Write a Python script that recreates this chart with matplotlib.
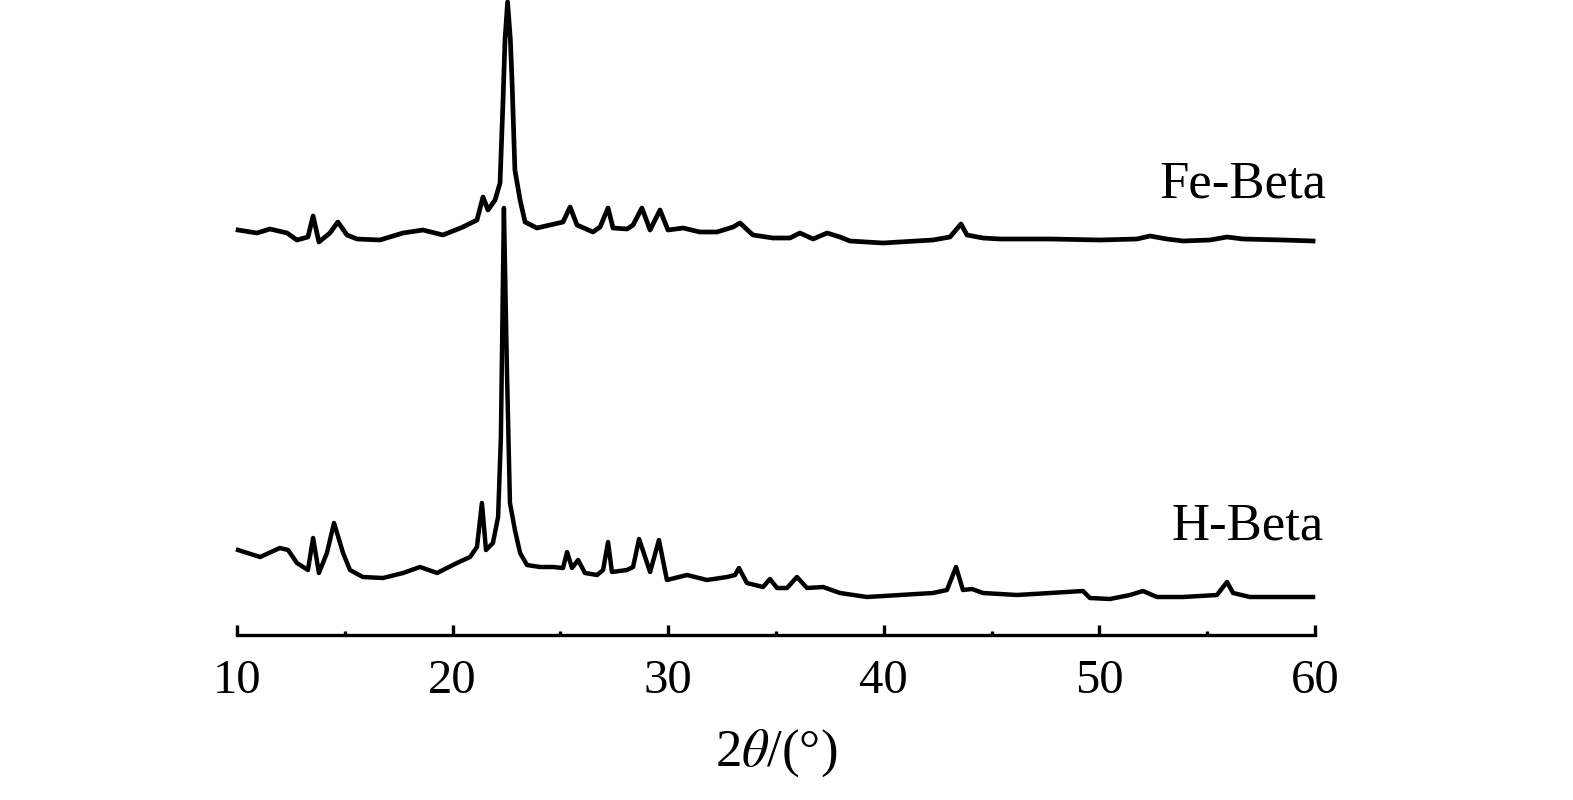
import matplotlib
matplotlib.use('Agg')
from matplotlib import pyplot as plt
from matplotlib.ticker import MultipleLocator

plt.rcParams['font.family'] = ['Liberation Serif', 'DejaVu Serif']
plt.rcParams['mathtext.fontset'] = 'stix'

# H-Beta pattern (2theta, intensity a.u.)
h_2theta = [10.05, 11.07, 11.99, 12.37, 12.78, 13.29, 13.53, 13.80, 14.17, 14.50,
            14.92, 15.24, 15.84, 16.77, 17.70, 18.49, 19.28, 20.20, 20.81, 21.13,
            21.36, 21.55, 21.87, 22.11, 22.24, 22.34, 22.38, 22.52, 22.66, 22.89,
            23.13, 23.45, 24.05, 24.66, 25.12, 25.31, 25.54, 25.82, 26.14, 26.70,
            26.98, 27.21, 27.39, 28.09, 28.37, 28.65, 29.16, 29.57, 29.94, 30.87,
            31.80, 32.73, 33.10, 33.28, 33.65, 34.40, 34.72, 35.05, 35.51, 35.97,
            36.44, 37.18, 37.97, 39.22, 40.75, 42.28, 42.93, 43.35, 43.67, 44.09,
            44.60, 46.18, 47.71, 49.24, 49.56, 50.49, 51.42, 52.02, 52.67, 53.88,
            55.45, 55.92, 56.20, 56.98, 58.52, 59.91]
h_int = [85, 78, 87, 85, 72, 65, 97, 62, 82, 112,
         82, 65, 58, 57, 62, 68, 62, 72, 78, 88,
         132, 85, 92, 118, 198, 365, 427, 265, 132, 105,
         82, 70, 68, 68, 67, 83, 67, 75, 62, 60,
         65, 93, 63, 65, 68, 96, 63, 95, 55, 60,
         55, 58, 60, 67, 52, 48, 56, 47, 47, 58,
         47, 48, 42, 38, 40, 42, 45, 68, 45, 46,
         42, 40, 42, 44, 37, 36, 40, 44, 38, 38,
         40, 53, 42, 38, 38, 38]

# Fe-Beta pattern (2theta, intensity a.u., stacked)
fe_2theta = [10.05, 10.93, 11.53, 12.32, 12.78, 13.29, 13.53, 13.80, 14.31, 14.68,
             15.10, 15.57, 16.63, 17.70, 18.63, 19.55, 20.48, 21.13, 21.41, 21.64,
             21.97, 22.20, 22.34, 22.43, 22.55, 22.68, 22.76, 22.89, 23.13, 23.36,
             23.91, 24.52, 25.12, 25.45, 25.77, 26.51, 26.84, 27.21, 27.44, 28.09,
             28.37, 28.78, 29.16, 29.62, 29.99, 30.69, 31.47, 32.26, 33.01, 33.33,
             33.93, 34.86, 35.65, 36.11, 36.72, 37.37, 37.97, 38.43, 39.96, 42.28,
             43.07, 43.58, 43.86, 44.60, 45.39, 47.71, 50.03, 51.74, 52.35, 53.13,
             53.88, 55.13, 55.92, 56.66, 58.52, 59.91]
fe_int = [405, 402, 406, 402, 395, 398, 419, 393, 402, 413,
          400, 396, 395, 402, 405, 400, 408, 415, 438, 425,
          435, 452, 535, 595, 633, 595, 552, 465, 435, 413,
          407, 410, 413, 428, 410, 403, 408, 427, 407, 406,
          410, 427, 405, 425, 405, 407, 403, 403, 408, 412,
          400, 397, 397, 402, 396, 402, 398, 394, 392, 395,
          398, 411, 400, 397, 396, 396, 395, 396, 399, 396,
          394, 395, 398, 396, 395, 394]

xticks = [10, 20, 30, 40, 50, 60]

fig = plt.figure(figsize=(15.73, 8), dpi=100)
ax = fig.add_axes([237/1573, 165/800, 1078/1573, 635/800])

ax.plot(h_2theta, h_int, color='black', lw=3.2, clip_on=False)
ax.plot(fe_2theta, fe_int, color='black', lw=3.4, clip_on=False)

ax.text(60.51, 438, 'Fe-Beta', ha='right', va='baseline', fontsize=38)
ax.text(60.42, 95, 'H-Beta', ha='right', va='baseline', fontsize=38)

ax.set_xlim(10, 60)
ax.set_ylim(0, 635)
for s in ['left', 'right', 'top']:
    ax.spines[s].set_visible(False)
ax.spines['bottom'].set_linewidth(2.4)
ax.set_yticks([])
ax.set_xticks(xticks)
ax.xaxis.set_minor_locator(MultipleLocator(5))
ax.tick_params(axis='x', which='major', direction='in', length=7, width=2.4,
               labelsize=35, pad=17)
ax.tick_params(axis='x', which='minor', direction='in', length=3, width=2.4)
ax.set_xlabel(r'2$\theta$/(°)', fontsize=38, labelpad=18)

plt.savefig('out.png', dpi=100)
